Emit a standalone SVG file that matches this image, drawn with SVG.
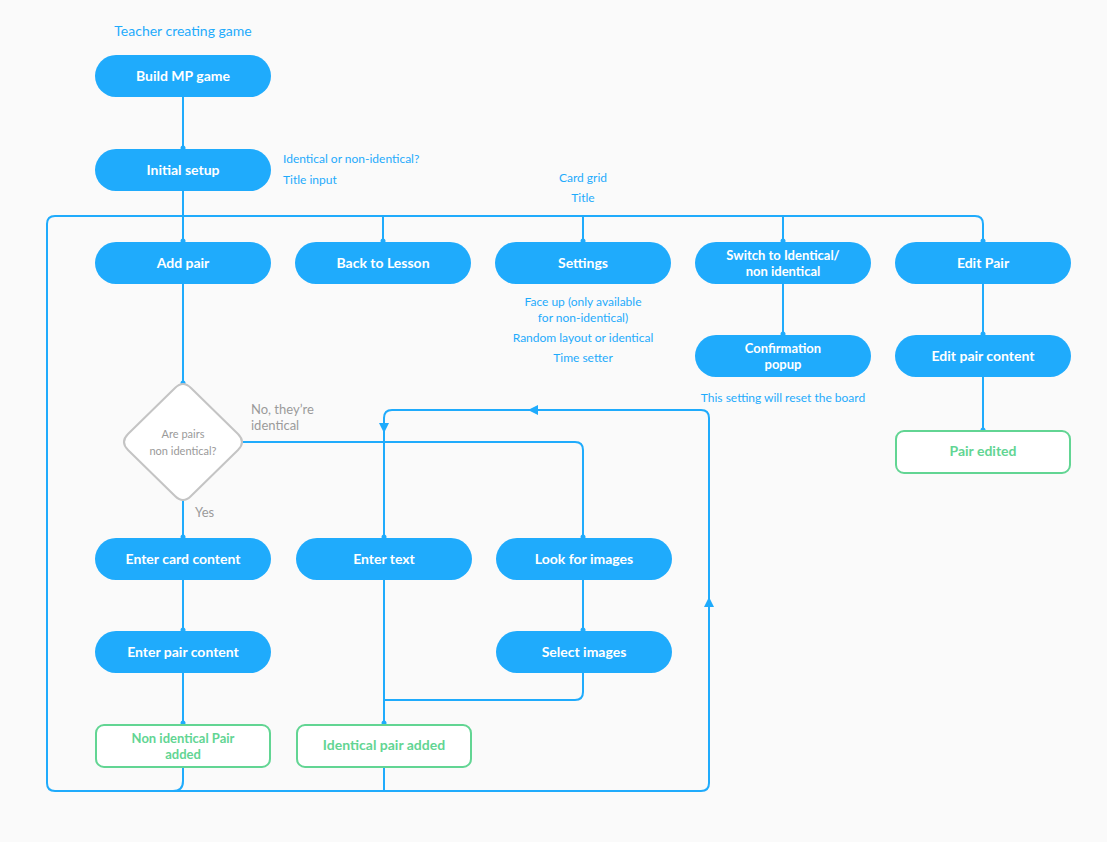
<svg xmlns="http://www.w3.org/2000/svg" width="1107" height="842" viewBox="0 0 1107 842">
<style>
.bg{fill:#FAFAFA}
.pill{fill:#1FABFC}
.done{fill:#fff;stroke:#62D593;stroke-width:2}
.lbl{font-family:Lato,"Noto Sans",sans-serif;font-weight:bold;font-size:14px;fill:#fff;text-anchor:middle}
.glbl{font-family:Lato,"Noto Sans",sans-serif;font-weight:bold;font-size:14px;fill:#62D593;text-anchor:middle}
.two{font-size:13px}
.note{font-family:Lato,"Noto Sans",sans-serif;font-size:12px;fill:#1FABFC}
.c{text-anchor:middle}
.gray{font-family:Lato,"Noto Sans",sans-serif;font-size:13px;fill:#9A9A9A}
.ln{fill:none;stroke:#1FABFC;stroke-width:2}
.dot{fill:#1FABFC}
.arr{fill:#1FABFC}
</style>
<rect class="bg" x="0" y="0" width="1107" height="842"/>
<g id="connectors">
<path class="ln" d="M183 97 V149"/>
<path class="ln" d="M183 191 V242"/>
<path class="ln" d="M983 242 V224 Q983 216 975 216 H55 Q47 216 47 224 V783 Q47 791 55 791 H701 Q709 791 709 783 V418 Q709 410 701 410 H392 Q384 410 384 418 V538"/>
<path class="ln" d="M383 216 V242"/>
<path class="ln" d="M583 216 V242"/>
<path class="ln" d="M783 216 V242"/>
<path class="ln" d="M783 284 V335"/>
<path class="ln" d="M983 284 V335"/>
<path class="ln" d="M983 377 V431"/>
<path class="ln" d="M183 284 V384"/>
<path class="ln" d="M183 500 V538"/>
<path class="ln" d="M242 442 H575 Q583 442 583 450 V538"/>
<path class="ln" d="M183 580 V631"/>
<path class="ln" d="M183 673 V724"/>
<path class="ln" d="M583 580 V631"/>
<path class="ln" d="M583 673 V692 Q583 700 575 700 H384"/>
<path class="ln" d="M384 580 V724"/>
<path class="ln" d="M183 767 V781 Q183 791 173 791"/>
<path class="ln" d="M384 767 V791"/>
<polygon class="arr" points="528,410 538,405 538,415"/>
<polygon class="arr" points="384,433 379,423 389,423"/>
<polygon class="arr" points="709,597 704,607 714,607"/>
<circle class="dot" cx="183" cy="148" r="2.5"/>
<circle class="dot" cx="183" cy="241" r="2.5"/>
<circle class="dot" cx="383" cy="241" r="2.5"/>
<circle class="dot" cx="583" cy="241" r="2.5"/>
<circle class="dot" cx="783" cy="241" r="2.5"/>
<circle class="dot" cx="983" cy="241" r="2.5"/>
<circle class="dot" cx="783" cy="334" r="2.5"/>
<circle class="dot" cx="983" cy="334" r="2.5"/>
<circle class="dot" cx="983" cy="430" r="2.5"/>
<circle class="dot" cx="183" cy="383" r="2.5"/>
<circle class="dot" cx="183" cy="537" r="2.5"/>
<circle class="dot" cx="384" cy="537" r="2.5"/>
<circle class="dot" cx="583" cy="537" r="2.5"/>
<circle class="dot" cx="183" cy="630" r="2.5"/>
<circle class="dot" cx="583" cy="630" r="2.5"/>
<circle class="dot" cx="183" cy="723" r="2.5"/>
<circle class="dot" cx="384" cy="723" r="2.5"/>
</g>
<g id="labels">
<text class="note c" x="183" y="36" style="font-size:14px">Teacher creating game</text>
<text class="note" x="283" y="163">Identical or non-identical?</text>
<text class="note" x="283" y="184">Title input</text>
<text class="note c" x="583" y="182">Card grid</text>
<text class="note c" x="583" y="202">Title</text>
<text class="note c" x="583" y="306">Face up (only available</text>
<text class="note c" x="583" y="322">for non-identical)</text>
<text class="note c" x="583" y="342">Random layout or identical</text>
<text class="note c" x="583" y="362">Time setter</text>
<text class="note c" x="783" y="402">This setting will reset the board</text>
<text class="gray" x="251" y="414">No, they’re</text>
<text class="gray" x="251" y="430">identical</text>
<text class="gray" x="195" y="517">Yes</text>
</g>
<g id="build"><rect class="pill" x="95" y="55" width="176" height="42" rx="21"/><text class="lbl" x="183" y="81">Build MP game</text></g>
<g id="setup"><rect class="pill" x="95" y="149" width="176" height="42" rx="21"/><text class="lbl" x="183" y="175">Initial setup</text></g>
<g id="addpair"><rect class="pill" x="95" y="242" width="176" height="42" rx="21"/><text class="lbl" x="183" y="268">Add pair</text></g>
<g id="back"><rect class="pill" x="295" y="242" width="176" height="42" rx="21"/><text class="lbl" x="383" y="268">Back to Lesson</text></g>
<g id="settings"><rect class="pill" x="495" y="242" width="176" height="42" rx="21"/><text class="lbl" x="583" y="268">Settings</text></g>
<g id="switch"><rect class="pill" x="695" y="242" width="176" height="42" rx="21"/><text class="lbl two" x="783" y="260">Switch to Identical/</text><text class="lbl two" x="783" y="276">non identical</text></g>
<g id="editpair"><rect class="pill" x="895" y="242" width="176" height="42" rx="21"/><text class="lbl" x="983" y="268">Edit Pair</text></g>
<g id="confirm"><rect class="pill" x="695" y="335" width="176" height="42" rx="21"/><text class="lbl two" x="783" y="353">Confirmation</text><text class="lbl two" x="783" y="369">popup</text></g>
<g id="editcontent"><rect class="pill" x="895" y="335" width="176" height="42" rx="21"/><text class="lbl" x="983" y="361">Edit pair content</text></g>
<g id="edited"><rect class="done" x="896" y="431" width="174" height="42" rx="8"/><text class="glbl" x="983" y="456">Pair edited</text></g>
<g id="decision"><path d="M175 388 Q183 380 191 388 L238 434 Q246 442 238 450 L191 496 Q183 504 175 496 L128 450 Q120 442 128 434 Z" fill="#fff" stroke="#C4C4C4" stroke-width="2"/><text class="gray c" x="183" y="438" style="font-size:11px">Are pairs</text><text class="gray c" x="183" y="455" style="font-size:11px">non identical?</text></g>
<g id="cardcontent"><rect class="pill" x="95" y="538" width="176" height="42" rx="21"/><text class="lbl" x="183" y="564">Enter card content</text></g>
<g id="entertext"><rect class="pill" x="296" y="538" width="176" height="42" rx="21"/><text class="lbl" x="384" y="564">Enter text</text></g>
<g id="lookimages"><rect class="pill" x="496" y="538" width="176" height="42" rx="21"/><text class="lbl" x="584" y="564">Look for images</text></g>
<g id="paircontent"><rect class="pill" x="95" y="631" width="176" height="42" rx="21"/><text class="lbl" x="183" y="657">Enter pair content</text></g>
<g id="selectimages"><rect class="pill" x="496" y="631" width="176" height="42" rx="21"/><text class="lbl" x="584" y="657">Select images</text></g>
<g id="nonidentical"><rect class="done" x="96" y="725" width="174" height="42" rx="8"/><text class="glbl two" x="183" y="743">Non identical Pair</text><text class="glbl two" x="183" y="759">added</text></g>
<g id="identical"><rect class="done" x="297" y="725" width="174" height="42" rx="8"/><text class="glbl" x="384" y="750">Identical pair added</text></g>
</svg>
